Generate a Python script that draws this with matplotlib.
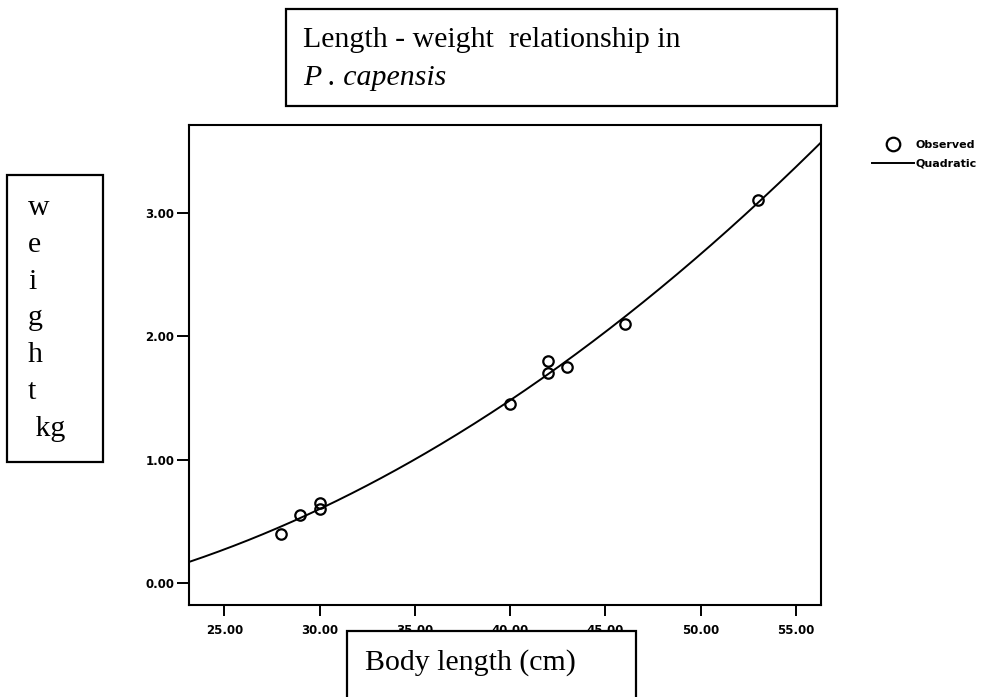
import numpy as np
import matplotlib
matplotlib.use('Agg')
import matplotlib.pyplot as plt
from matplotlib.patches import Rectangle

# observed points
length = [28, 29, 30, 30, 40, 42, 42, 43, 46, 53]
weight = [0.40, 0.55, 0.60, 0.65, 1.45, 1.70, 1.80, 1.75, 2.10, 3.10]

x_ticks = [25, 30, 35, 40, 45, 50, 55]
y_ticks = [0, 1, 2, 3]
ylabel_letters = ['w', 'e', 'i', 'g', 'h', 't', ' kg']

W, H = 983, 697

def fx(px):
    return px / W

def fy(py):
    return (H - py) / H

fig = plt.figure(figsize=(9.83, 6.97), dpi=100)
ax = fig.add_axes([fx(189), fy(605), (821 - 189) / W, (605 - 125) / H])

xmin, xmax = 23.15, 56.31
ymin, ymax = -0.176, 3.71

# quadratic fit of the observed data
coef = np.polyfit(length, weight, 2)
xs = np.linspace(xmin, xmax, 300)
ax.plot(xs, np.polyval(coef, xs), color='black', lw=1.4, label='Quadratic')
ax.plot(length, weight, 'o', mfc='none', mec='black', mew=1.6, ms=7.5, label='Observed')

ax.set_xlim(xmin, xmax)
ax.set_ylim(ymin, ymax)
ax.set_xticks(x_ticks)
ax.set_xticklabels(['%.2f' % v for v in x_ticks])
ax.set_yticks(y_ticks)
ax.set_yticklabels(['%.2f' % v for v in y_ticks])
for lab in ax.get_xticklabels() + ax.get_yticklabels():
    lab.set_fontfamily('DejaVu Sans')
    lab.set_fontweight('bold')
    lab.set_fontsize(8.5)
ax.tick_params(axis='y', direction='out', length=9, width=1.4, pad=1.5)
ax.tick_params(axis='x', direction='out', length=8, width=1.4, pad=6)
for sp in ax.spines.values():
    sp.set_linewidth(1.5)

# legend outside on the right
h, l = ax.get_legend_handles_labels()
leg = fig.legend([h[1], h[0]], [l[1], l[0]], loc='upper left',
                 bbox_to_anchor=(fx(866), fy(134)), bbox_transform=fig.transFigure,
                 frameon=False, borderpad=0, handlelength=3.8, handletextpad=0.2,
                 labelspacing=0.85, markerscale=1.3,
                 prop={'family': 'DejaVu Sans', 'weight': 'bold', 'size': 8})

serif = 'Liberation Serif'

# title box
fig.patches.append(Rectangle((fx(286), fy(106)), (837 - 286) / W, (106 - 9) / H,
                             transform=fig.transFigure, facecolor='white',
                             edgecolor='black', lw=1.6, zorder=5))
fig.text(fx(303), fy(47), 'Length - weight  relationship in', family=serif,
         fontsize=21.5, va='baseline', ha='left', zorder=6)
fig.text(fx(303), fy(85), 'P . capensis', family=serif, style='italic',
         fontsize=21.5, va='baseline', ha='left', zorder=6)

# y label box
fig.patches.append(Rectangle((fx(7), fy(462)), (103 - 7) / W, (462 - 175) / H,
                             transform=fig.transFigure, facecolor='white',
                             edgecolor='black', lw=1.6, zorder=5))
for i, ch in enumerate(ylabel_letters):
    fig.text(fx(28), fy(215 + i * 36.8), ch, family=serif, fontsize=21.5,
             va='baseline', ha='left', zorder=6)

# x label box
fig.patches.append(Rectangle((fx(347), fy(710)), (636 - 347) / W, (710 - 631) / H,
                             transform=fig.transFigure, facecolor='white',
                             edgecolor='black', lw=1.6, zorder=5))
fig.text(fx(365), fy(670), 'Body length (cm)', family=serif, fontsize=21.5,
         va='baseline', ha='left', zorder=6)

fig.savefig('out.png', dpi=100)
